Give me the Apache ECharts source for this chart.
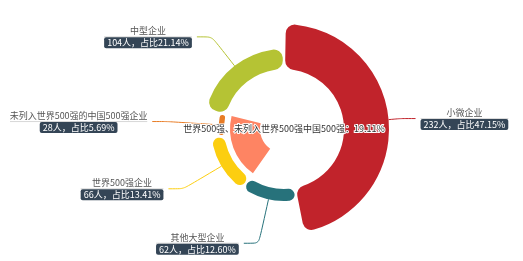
<!DOCTYPE html>
<html><head><meta charset="utf-8">
<script src="https://cdn.jsdelivr.net/npm/echarts@6/dist/echarts.min.js"></script>
<style>html,body{margin:0;padding:0;background:#fff}#c{width:523px;height:261px}</style>
</head><body><div id="c"></div>
<script>
const categories = ['小微企业', '其他大型企业', '世界500强企业', '未列入世界500强的中国500强企业', '中型企业'];
const counts = [232, 62, 66, 28, 104];
const colors = ['#C1232B', '#27727B', '#FCCE10', '#E87C25', '#B5C334'];
const innerName = '世界500强、未列入世界500强中国500强';
const innerGroup = [2, 3];
const innerColor = '#FE8463';

const total = counts.reduce((a, b) => a + b, 0);
const pct = v => (v / total * 100).toFixed(2);
const groupSum = innerGroup.reduce((s, i) => s + counts[i], 0);
const before = counts.slice(0, innerGroup[0]).reduce((a, b) => a + b, 0);
const after = total - before - groupSum;

const FONT = 'Noto Sans CJK SC';
const chart = echarts.init(document.getElementById('c'), null, {renderer: 'canvas'});
const center = [284, 129];
chart.setOption({
  animation: false,
  textStyle: {fontFamily: FONT},
  series: [
    {
      type: 'pie',
      roseType: 'radius',
      center: center,
      radius: [60, 105],
      startAngle: 90,
      padAngle: 2,
      itemStyle: {borderRadius: 9},
      avoidLabelOverlap: true,
      label: {
        overflow: 'none',
        formatter: p => `{name|${p.name}}\n{hr|}\n{box|${p.value}人，占比${pct(p.value)}%}`,
        rich: {
          name: {fontFamily: FONT, fontSize: 9, color: '#555', align: 'center', lineHeight: 12},
          hr: {borderColor: '#ccc', width: '100%', borderWidth: 0.5, height: 0},
          box: {fontFamily: FONT, fontSize: 9, color: '#fff', backgroundColor: '#344556', padding: [1, 3], borderRadius: 2, align: 'center', lineHeight: 12}
        }
      },
      labelLine: {length: 12, length2: 15, smooth: 0.2, lineStyle: {width: 1}},
      data: categories.map((n, i) => ({name: n, value: counts[i], itemStyle: {color: colors[i]}}))
    },
    {
      type: 'pie',
      center: center,
      radius: [24, 54],
      startAngle: 90,
      silent: true,
      z: 3,
      label: {
        position: 'center',
        fontFamily: FONT, fontSize: 9, color: '#333',
        textBorderColor: '#fff', textBorderWidth: 2,
        formatter: p => `${p.name}：${pct(p.value)}%`
      },
      labelLine: {show: false},
      data: [
        {value: before, name: '', itemStyle: {color: 'transparent'}, label: {show: false}},
        {value: groupSum, name: innerName, itemStyle: {color: innerColor}},
        {value: after, name: ' ', itemStyle: {color: 'transparent'}, label: {show: false}}
      ]
    }
  ]
});
</script></body></html>
